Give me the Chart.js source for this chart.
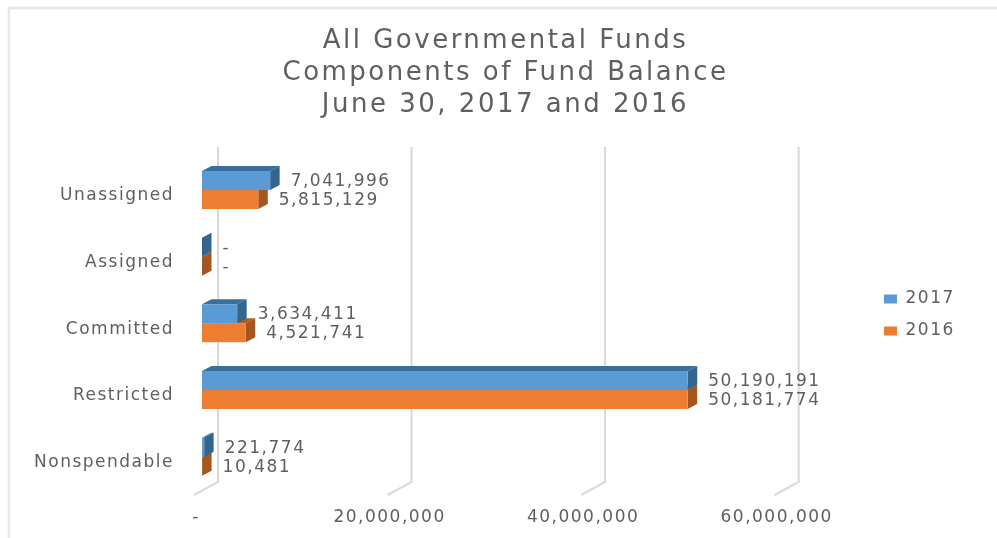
<!DOCTYPE html>
<html>
<head>
<meta charset="utf-8">
<title>All Governmental Funds</title>
<script src="https://cdn.jsdelivr.net/npm/chart.js@4"></script>
<style>
  html, body { margin: 0; padding: 0; background: #fff; }
  canvas { display: block; }
</style>
</head>
<body>
<canvas id="chart" width="997" height="538"></canvas>
<script>
var categories = ['Unassigned', 'Assigned', 'Committed', 'Restricted', 'Nonspendable'];
var values2017 = [7041996, 0, 3634411, 50190191, 221774];
var values2016 = [5815129, 0, 4521741, 50181774, 10481];
var axisTicks = [0, 20000000, 40000000, 60000000];
var titleLines = ['All Governmental Funds', 'Components of Fund Balance', 'June 30, 2017 and 2016'];

var textColor = '#5f5f5f';
var fontFamily = '"DejaVu Sans", sans-serif';
var faceColors = [
  { top: '#3a6e9e', side: '#33658f' },
  { top: '#ad5c22', side: '#a5561f' }
];

function formatValue(v) {
  return v === 0 ? '-' : v.toLocaleString('en-US');
}

// fake depth: the top and side face of every bar, plus the back wall lines
var depthPlugin = {
  id: 'depth',
  beforeDraw: function(chart) {
    var ctx = chart.ctx;
    ctx.letterSpacing = '1.5px';
    ctx.save();
    ctx.strokeStyle = '#e8e8e8';
    ctx.lineWidth = 2.5;
    ctx.beginPath();
    ctx.moveTo(9, 538);
    ctx.lineTo(9, 8);
    ctx.lineTo(997, 8);
    ctx.stroke();
    ctx.restore();
  },
  afterLayout: function(chart) {
    var legend = chart.legend;
    var w = legend.right - legend.left;
    legend.left = 869;
    legend.right = 869 + w;
    legend.top += 46;
    legend.bottom += 46;
  },
  beforeDatasetsDraw: function(chart) {
    var ctx = chart.ctx;
    var xScale = chart.scales.x;
    var dx = 9.5, dy = 5;

    ctx.save();
    ctx.strokeStyle = '#d9d9d9';
    ctx.lineWidth = 2;
    xScale.ticks.forEach(function(t) {
      var px = xScale.getPixelForValue(t.value);
      ctx.beginPath();
      ctx.moveTo(px + 16, 147);
      ctx.lineTo(px + 16, 482);
      ctx.lineTo(px - 8, 495);
      ctx.stroke();
    });

    // last dataset first so the upper bar sits over the lower one
    for (var d = chart.data.datasets.length - 1; d >= 0; d--) {
      chart.getDatasetMeta(d).data.forEach(function(bar) {
        var y0 = bar.y - bar.height / 2;
        var y1 = bar.y + bar.height / 2;
        ctx.fillStyle = faceColors[d].top;
        ctx.beginPath();
        ctx.moveTo(bar.base, y0);
        ctx.lineTo(bar.base + dx, y0 - dy);
        ctx.lineTo(bar.x + dx, y0 - dy);
        ctx.lineTo(bar.x, y0);
        ctx.closePath();
        ctx.fill();
        ctx.fillStyle = faceColors[d].side;
        ctx.beginPath();
        ctx.moveTo(bar.x, y0);
        ctx.lineTo(bar.x + dx, y0 - dy);
        ctx.lineTo(bar.x + dx, y1 - dy);
        ctx.lineTo(bar.x, y1);
        ctx.closePath();
        ctx.fill();
      });
    }
    ctx.restore();
  },
  afterDatasetsDraw: function(chart) {
    var ctx = chart.ctx;
    ctx.save();
    ctx.fillStyle = textColor;
    ctx.font = '17px ' + fontFamily;
    ctx.textAlign = 'left';
    ctx.textBaseline = 'middle';
    chart.data.datasets.forEach(function(ds, d) {
      chart.getDatasetMeta(d).data.forEach(function(bar, i) {
        ctx.fillText(formatValue(ds.data[i]), bar.x + 20.5, bar.y + 1);
      });
    });
    ctx.restore();
  },
  afterInit: function(chart) {
    // the title runs wider than the other text
    var block = chart.titleBlock;
    var draw = block.draw;
    block.draw = function() {
      chart.ctx.letterSpacing = '2.5px';
      draw.call(block);
      chart.ctx.letterSpacing = '1.5px';
    };
  }
};

var chart = new Chart(document.getElementById('chart').getContext('2d'), {
  type: 'bar',
  plugins: [depthPlugin],
  data: {
    labels: categories,
    datasets: [
      { label: '2017', data: values2017, backgroundColor: '#5b9bd5', categoryPercentage: 0.57, barPercentage: 1 },
      { label: '2016', data: values2016, backgroundColor: '#ed7d31', categoryPercentage: 0.57, barPercentage: 1 }
    ]
  },
  options: {
    indexAxis: 'y',
    responsive: false,
    animation: false,
    layout: { padding: { left: 14, right: 0, top: 0, bottom: 0 } },
    plugins: {
      title: {
        display: true,
        text: titleLines,
        color: textColor,
        font: { family: fontFamily, size: 26, weight: 'normal', lineHeight: 32 / 26 },
        padding: { top: 25, bottom: 35.7 }
      },
      legend: {
        position: 'right',
        labels: {
          boxWidth: 13,
          boxHeight: 9,
          padding: 15,
          color: textColor,
          font: { family: fontFamily, size: 17 }
        }
      },
      tooltip: { enabled: false }
    },
    scales: {
      x: {
        min: 0,
        max: 72870000,
        grid: { display: false, drawTicks: false },
        border: { display: false },
        afterFit: function(s) { s.height = 48; },
        afterBuildTicks: function(s) {
          s.ticks = axisTicks.map(function(v) { return { value: v }; });
        },
        ticks: {
          maxRotation: 0,
          autoSkip: false,
          padding: 17,
          labelOffset: -6,
          color: textColor,
          font: { family: fontFamily, size: 17 },
          callback: function(v) { return formatValue(v); }
        }
      },
      y: {
        grid: { display: false, drawTicks: false },
        border: { display: false },
        afterFit: function(s) { s.width = 188; },
        ticks: {
          padding: 28,
          labelOffset: 6,
          color: textColor,
          font: { family: fontFamily, size: 17 }
        }
      }
    }
  }
});
</script>
</body>
</html>
